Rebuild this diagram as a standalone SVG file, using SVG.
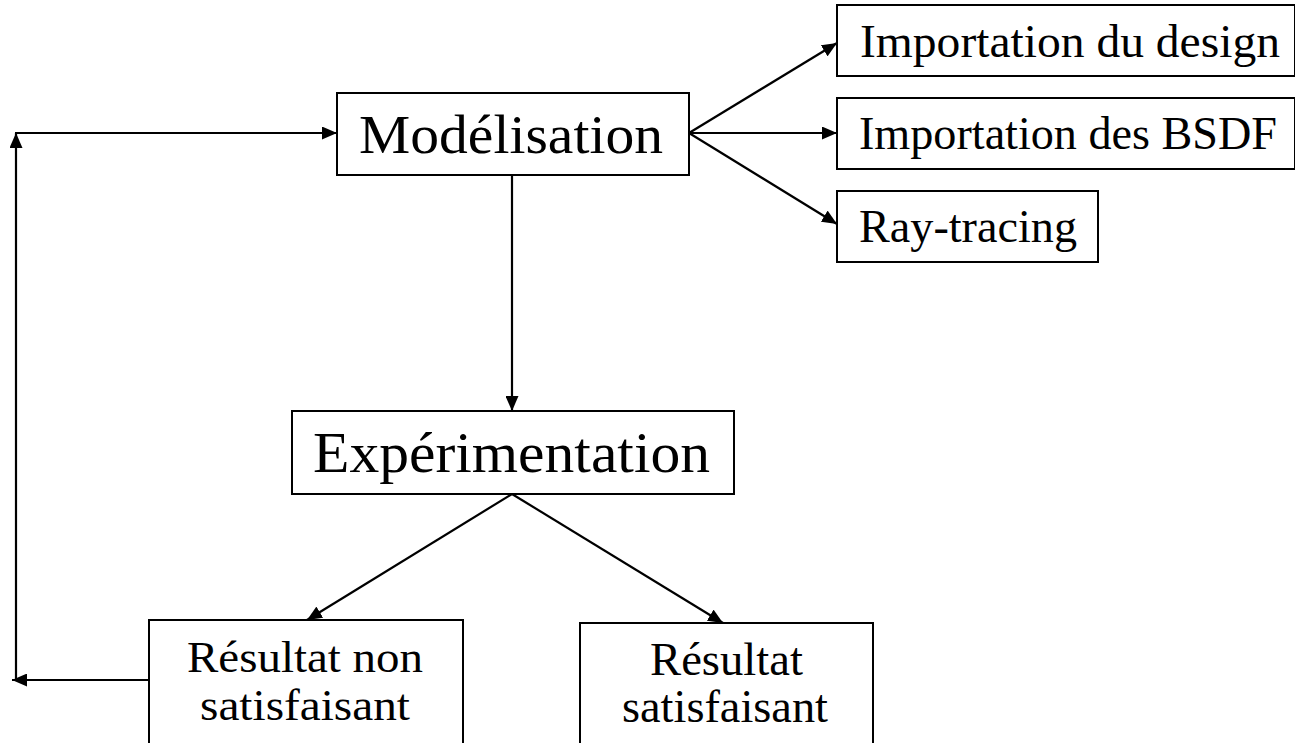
<svg xmlns="http://www.w3.org/2000/svg" width="1295" height="743" viewBox="0 0 1295 743">
<defs>
<marker id="ah" viewBox="0 0 15 13" refX="15" refY="6.5" markerWidth="15" markerHeight="13" markerUnits="userSpaceOnUse" orient="auto">
<path d="M0,0 L15,6.5 L0,13 z" fill="#000"/>
</marker>
<style>
.box{fill:#fff;stroke:#000;stroke-width:2}
.t{font-family:"Liberation Serif","Times New Roman",serif;fill:#000}
.c line{stroke:#000;stroke-width:2.2;fill:none}
</style>
</defs>
<rect width="1295" height="743" fill="#fff"/>
<g id="connectors" class="c">
<line x1="16" y1="681" x2="16" y2="133" marker-end="url(#ah)"/>
<line x1="15" y1="133" x2="337" y2="133" marker-end="url(#ah)"/>
<line x1="689" y1="133" x2="837" y2="43" marker-end="url(#ah)"/>
<line x1="689" y1="133" x2="837" y2="133" marker-end="url(#ah)"/>
<line x1="689" y1="133" x2="837" y2="224" marker-end="url(#ah)"/>
<line x1="512" y1="175" x2="512" y2="411" marker-end="url(#ah)"/>
<line x1="512" y1="494" x2="307" y2="620" marker-end="url(#ah)"/>
<line x1="512" y1="494" x2="723" y2="623" marker-end="url(#ah)"/>
<line x1="149" y1="680" x2="12" y2="680" marker-end="url(#ah)"/>
</g>
<g id="modelisation">
<rect class="box" x="337" y="93" width="352" height="82"/>
<text class="t" x="359" y="153" font-size="54" textLength="304" lengthAdjust="spacingAndGlyphs">Modélisation</text>
</g>
<g id="import-design">
<rect class="box" x="837" y="5" width="458" height="71"/>
<text class="t" x="860" y="57" font-size="47" textLength="420" lengthAdjust="spacingAndGlyphs">Importation du design</text>
</g>
<g id="import-bsdf">
<rect class="box" x="837" y="98" width="458" height="71"/>
<text class="t" x="859" y="149" font-size="47" textLength="418" lengthAdjust="spacingAndGlyphs">Importation des BSDF</text>
</g>
<g id="raytracing">
<rect class="box" x="837" y="191" width="261" height="71"/>
<text class="t" x="859" y="242" font-size="47" textLength="218" lengthAdjust="spacingAndGlyphs">Ray-tracing</text>
</g>
<g id="experimentation">
<rect class="box" x="292" y="411" width="442" height="83"/>
<text class="t" x="313" y="472" font-size="56" textLength="397" lengthAdjust="spacingAndGlyphs">Expérimentation</text>
</g>
<g id="non-satisfaisant">
<rect class="box" x="149" y="620" width="314" height="130"/>
<text class="t" x="187" y="672" font-size="44" textLength="236" lengthAdjust="spacingAndGlyphs">Résultat non</text>
<text class="t" x="200" y="720" font-size="44" textLength="210" lengthAdjust="spacingAndGlyphs">satisfaisant</text>
</g>
<g id="satisfaisant">
<rect class="box" x="580" y="623" width="293" height="130"/>
<text class="t" x="650" y="675" font-size="46" textLength="153" lengthAdjust="spacingAndGlyphs">Résultat</text>
<text class="t" x="622" y="722" font-size="46" textLength="206" lengthAdjust="spacingAndGlyphs">satisfaisant</text>
</g>
</svg>
